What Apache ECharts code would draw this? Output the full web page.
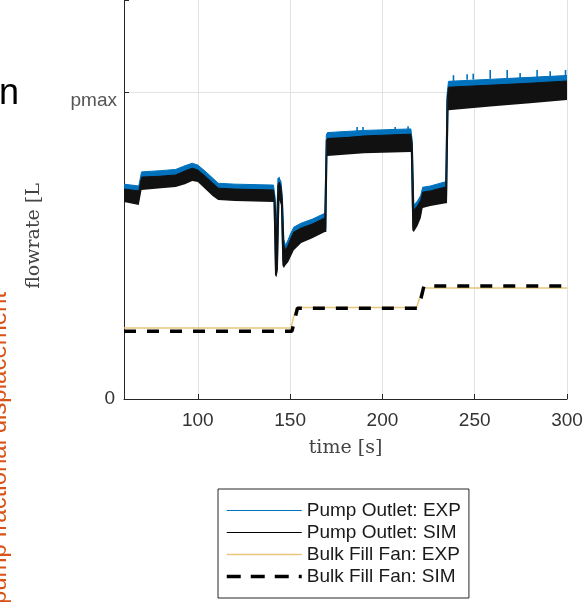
<!DOCTYPE html>
<html>
<head>
<meta charset="utf-8">
<script src="https://cdn.jsdelivr.net/npm/echarts@6/dist/echarts.min.js"></script>
<style>
html,body{margin:0;padding:0;background:#fff;}
#chart{width:588px;height:602px;}
</style>
</head>
<body>
<div id="chart"></div>
<script>
// ---- data (flow in units of Q_pmax, time in s) ----
const xTicks = [100, 150, 200, 250, 300];
const yTickLabels = ['0', 'pmax'];

// Pump outlet: noisy thick traces, given as lower / upper envelope
const pumpTime = [60, 68, 69.5, 80, 88, 93, 97, 100, 104, 108, 111, 120, 141,
  141.8, 142.6, 143.4, 144.2, 145.0, 145.8, 146.6, 147.5, 149, 150, 152, 156, 162,
  168.8, 169.6, 170.2, 190, 215.4, 216.2, 217, 219, 220.8, 221.8, 226, 234.3, 235.0,
  235.8, 260, 280, 300];
const simHigh = [0.684, 0.678, 0.723, 0.726, 0.730, 0.743, 0.752, 0.746, 0.726, 0.704, 0.687, 0.684, 0.681,
  0.648, 0.534, 0.697, 0.707, 0.694, 0.648, 0.502, 0.485, 0.502, 0.518, 0.544, 0.557, 0.570,
  0.590, 0.844, 0.850, 0.857, 0.863, 0.827, 0.616, 0.629, 0.648, 0.674, 0.678, 0.691, 0.974,
  1.016, 1.023, 1.029, 1.036];
const simLow = [0.642, 0.632, 0.681, 0.687, 0.691, 0.700, 0.710, 0.707, 0.684, 0.661, 0.648, 0.645, 0.642,
  0.404, 0.397, 0.420, 0.648, 0.632, 0.436, 0.427, 0.436, 0.446, 0.459, 0.485, 0.508, 0.524,
  0.544, 0.544, 0.792, 0.801, 0.805, 0.550, 0.544, 0.564, 0.590, 0.622, 0.629, 0.638, 0.638,
  0.941, 0.954, 0.964, 0.974];
const expHigh = [0.700, 0.694, 0.740, 0.744, 0.748, 0.760, 0.768, 0.762, 0.742, 0.720, 0.703, 0.700, 0.697,
  0.660, 0.560, 0.720, 0.725, 0.710, 0.660, 0.520, 0.500, 0.520, 0.535, 0.560, 0.573, 0.586,
  0.605, 0.860, 0.868, 0.875, 0.880, 0.840, 0.632, 0.645, 0.664, 0.690, 0.694, 0.708, 0.990,
  1.035, 1.042, 1.048, 1.054];
const expLow = [0.650, 0.640, 0.690, 0.695, 0.700, 0.708, 0.718, 0.715, 0.692, 0.668, 0.655, 0.652, 0.650,
  0.420, 0.410, 0.440, 0.655, 0.640, 0.450, 0.440, 0.448, 0.458, 0.470, 0.495, 0.518, 0.534,
  0.552, 0.552, 0.800, 0.810, 0.813, 0.560, 0.552, 0.572, 0.598, 0.630, 0.637, 0.646, 0.646,
  0.950, 0.962, 0.972, 0.982];

// Pump outlet EXP: visible upward spikes (time, spike top, band top)
const spikeTime = [186.3, 189.5, 206.9, 213.9, 238.5, 245.9, 249.2, 258.4, 267.6, 274.6, 283.8, 290.9, 299.2];
const spikeTop  = [0.886, 0.886, 0.886, 0.889, 1.055, 1.058, 1.060, 1.072, 1.072, 1.062, 1.072, 1.068, 1.072];
const spikeBase = [0.870, 0.870, 0.874, 0.876, 1.036, 1.040, 1.041, 1.043, 1.044, 1.045, 1.048, 1.050, 1.053];

// Bulk fill fan
const fanTimeSim = [60, 151, 152.5, 154, 219, 221, 222.5, 300];
const fanSim = [0.221, 0.221, 0.26, 0.296, 0.296, 0.33, 0.368, 0.368];
const fanTimeExp = [60, 150.5, 152, 153.5, 218.5, 220.5, 222, 300];
const fanExp = [0.231, 0.231, 0.27, 0.298, 0.298, 0.335, 0.362, 0.362];

const names = ['Pump Outlet: EXP', 'Pump Outlet: SIM', 'Bulk Fill Fan: EXP', 'Bulk Fill Fan: SIM'];
const BLUE = '#0072BD', BLACK = '#111111', YELLOW = '#E8C87A';

// ---- build ----
const zip = (t, v) => t.map((x, i) => [x, v[i]]);
function bandSeries(lo, hi, color) {
  return {
    type: 'custom', silent: true, clip: true,
    data: pumpTime.map((t, i) => [t, lo[i], hi[i]]),
    encode: { x: 0, y: [1, 2] },
    renderItem: function (params, api) {
      if (params.dataIndex !== 0) return null;
      const top = pumpTime.map((t, i) => api.coord([t, hi[i]]));
      const bot = pumpTime.map((t, i) => api.coord([t, lo[i]])).reverse();
      return { type: 'polygon', shape: { points: top.concat(bot) }, style: { fill: color } };
    }
  };
}
const spikeSeries = {
  type: 'custom', silent: true, clip: true,
  data: spikeTime.map((t, i) => [t, spikeBase[i], spikeTop[i]]),
  encode: { x: 0, y: [1, 2] },
  renderItem: function (params, api) {
    const a = api.coord([api.value(0), api.value(1)]);
    const b = api.coord([api.value(0), api.value(2)]);
    return { type: 'line', shape: { x1: a[0], y1: a[1], x2: b[0], y2: b[1] },
      style: { stroke: BLUE, lineWidth: 1.6 } };
  }
};

const FONT = 'Liberation Sans, Arial, sans-serif';
const hideSym = { opacity: 0 };
const chart = echarts.init(document.getElementById('chart'), null, { renderer: 'canvas' });
chart.setOption({
  animation: false,
  backgroundColor: '#fff',
  grid: { left: 124, right: 21, top: 0, bottom: 203, containLabel: false },
  xAxis: {
    type: 'value', min: 60, max: 300,
    name: 'time [s]', nameLocation: 'middle', nameGap: 40,
    nameTextStyle: { fontFamily: 'DejaVu Serif', fontSize: 19, color: '#444' },
    axisLine: { lineStyle: { color: '#262626', width: 1 } },
    axisTick: { inside: true, length: 5, lineStyle: { color: '#262626' } },
    axisLabel: { showMinLabel: false, margin: 12, fontFamily: FONT, fontSize: 19, color: '#333',
      formatter: v => (xTicks.indexOf(v) >= 0 ? String(v) : '') },
    splitLine: { show: true, lineStyle: { color: '#e2e2e2', width: 1 } }
  },
  yAxis: {
    type: 'value', min: 0, max: 1.3, interval: 1,
    axisLine: { show: true, lineStyle: { color: '#262626', width: 1 } },
    axisTick: { show: true, inside: true, length: 5, lineStyle: { color: '#262626' } },
    axisLabel: { margin: 9, fontFamily: FONT, fontSize: 19, color: '#333',
      formatter: v => (v === 0 ? yTickLabels[0] : '') },
    splitLine: { show: true, showMaxLine: false, lineStyle: { color: '#e2e2e2', width: 1 } }
  },
  legend: {
    orient: 'vertical', left: 218, top: 489,
    padding: [12, 8, 12, 7], itemGap: 3, itemWidth: 75, itemHeight: 14,
    borderColor: '#262626', borderWidth: 1, backgroundColor: '#fff',
    textStyle: { fontFamily: FONT, fontSize: 19, color: '#1a1a1a' },
    data: [
      { name: names[0], itemStyle: hideSym, lineStyle: { color: BLUE, width: 1.2, type: 'solid' } },
      { name: names[1], itemStyle: hideSym, lineStyle: { color: '#000', width: 1.2, type: 'solid' } },
      { name: names[2], itemStyle: hideSym, lineStyle: { color: YELLOW, width: 1.5, type: 'solid' } },
      { name: names[3], itemStyle: hideSym, lineStyle: { color: '#000', width: 3.5, type: [14, 10] } }
    ]
  },
  series: [
    bandSeries(expLow, expHigh, BLUE),
    spikeSeries,
    { name: names[0], type: 'line', data: zip(pumpTime, expHigh), symbol: 'none',
      itemStyle: { color: BLUE }, lineStyle: { color: BLUE, width: 1 } },
    bandSeries(simLow, simHigh, BLACK),
    { name: names[1], type: 'line', data: zip(pumpTime, simHigh), symbol: 'none',
      itemStyle: { color: '#000' }, lineStyle: { color: BLACK, width: 1 } },
    { name: names[2], type: 'line', data: zip(fanTimeExp, fanExp), symbol: 'none',
      itemStyle: { color: YELLOW }, lineStyle: { color: YELLOW, width: 1.5 } },
    { name: names[3], type: 'line', data: zip(fanTimeSim, fanSim), symbol: 'none',
      itemStyle: { color: '#000' }, lineStyle: { color: '#000', width: 3.5, type: [12, 11] } }
  ],
  graphic: [
    { type: 'text', x: -1, y: 94, style: { text: 'n', font: '36px ' + FONT, fill: '#000',
      align: 'left', verticalAlign: 'middle', textAlign: 'left', textVerticalAlign: 'middle' } },
    { type: 'text', x: 117, y: 101, style: { text: yTickLabels[1], font: '19px ' + FONT, fill: '#555',
      align: 'right', verticalAlign: 'middle', textAlign: 'right', textVerticalAlign: 'middle' } },
    { type: 'text', x: 34, y: 236, rotation: Math.PI / 2, style: { text: 'flowrate [L', font: '19px DejaVu Serif', fill: '#444',
      align: 'center', verticalAlign: 'middle', textAlign: 'center', textVerticalAlign: 'middle' } },
    { type: 'text', x: -1, y: 448, rotation: Math.PI / 2, style: { text: 'pump fractional displacement', font: '24px ' + FONT, fill: '#D95319',
      align: 'center', verticalAlign: 'middle', textAlign: 'center', textVerticalAlign: 'middle' } }
  ]
});
</script>
</body>
</html>
